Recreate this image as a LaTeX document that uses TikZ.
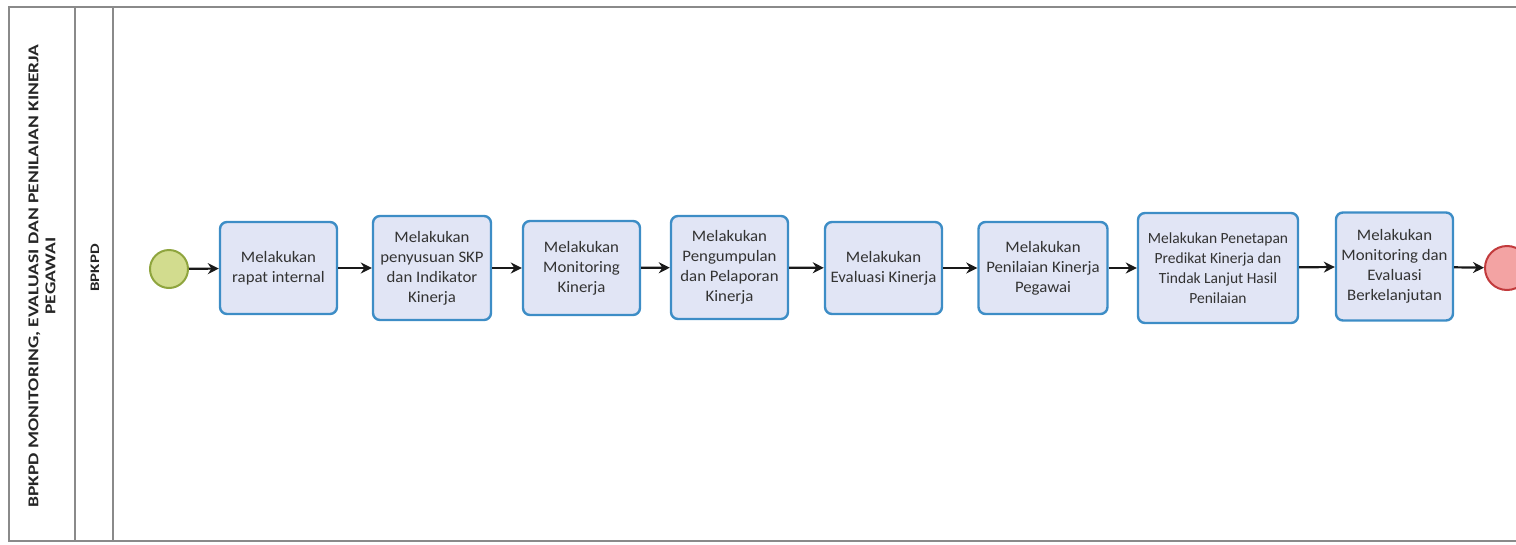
\documentclass[tikz,border=0pt]{standalone}
\usepackage{fontspec}
\setmainfont{Carlito}[FakeStretch=1.05]
\newfontfamily\titlefont{Carlito}[FakeStretch=1.3]
\newfontfamily\plainfont{Carlito}
\usetikzlibrary{arrows.meta}
\definecolor{taskfill}{HTML}{E1E5F5}
\definecolor{taskline}{HTML}{3D8DC6}
\definecolor{startfill}{HTML}{D2DC8E}
\definecolor{startline}{HTML}{8FA53E}
\definecolor{endfill}{HTML}{F3A3A3}
\definecolor{endline}{HTML}{C23A3C}
\definecolor{laneline}{HTML}{8A8A8A}
\definecolor{txt}{HTML}{333333}
\tikzset{
  task/.style={draw=taskline, fill=taskfill, line width=2.4pt, rounded corners=7pt,
    align=center, text=txt, font=\fontsize{16}{20}\selectfont, inner sep=1pt},
  evstart/.style={circle, draw=startline, fill=startfill, line width=2pt, minimum size=38pt, inner sep=0pt},
  evend/.style={circle, draw=endline, fill=endfill, line width=2pt, minimum size=44pt, inner sep=0pt},
  flow/.style={draw=black!90, line width=2.2pt, -{Stealth[length=11pt,width=11pt]}},
  lanetxt/.style={text=black!85, rotate=90, align=center}
}
\begin{document}
\begin{tikzpicture}[x=1pt,y=-1pt]
\useasboundingbox (0,0) rectangle (1516,544);
\begin{scope}
\clip (0,0) rectangle (1516,544);
% pool and lane
\draw[laneline, line width=1.6pt] (1530,7) -- (9,7) -- (9,541) -- (1530,541);
\draw[laneline, line width=1.4pt] (75,7) -- (75,541);
\draw[laneline, line width=1.4pt] (113,7) -- (113,541);
\node[lanetxt, font=\titlefont\bfseries\fontsize{15}{17}\selectfont] (pooltitle) at (42,276) {BPKPD MONITORING, EVALUASI DAN PENILAIAN KINERJA\\PEGAWAI};
\node[lanetxt, font=\titlefont\bfseries\fontsize{13}{15}\selectfont] (lanetitle) at (95,268) {BPKPD};
% events and tasks
\node[evstart] (s) at (169,269) {};
\node[task, minimum width=117pt, minimum height=92pt] (t1) at (278.5,268) {Melakukan\\rapat internal};
\node[task, minimum width=118pt, minimum height=104pt] (t2) at (432,268) {Melakukan\\penyusuan SKP\\dan Indikator\\Kinerja};
\node[task, minimum width=117pt, minimum height=94pt] (t3) at (581.5,268) {Melakukan\\Monitoring\\Kinerja};
\node[task, minimum width=117pt, minimum height=103pt] (t4) at (729.5,267.5) {Melakukan\\Pengumpulan\\dan Pelaporan\\Kinerja};
\node[task, minimum width=117pt, minimum height=92pt] (t5) at (883.5,268) {Melakukan\\Evaluasi Kinerja};
\node[task, minimum width=129pt, minimum height=92pt] (t6) at (1043,268) {Melakukan\\Penilaian Kinerja\\Pegawai};
\node[task, minimum width=160pt, minimum height=110pt, font=\plainfont\fontsize{15.5}{20}\selectfont] (t7) at (1218,268) {Melakukan Penetapan\\Predikat Kinerja dan\\Tindak Lanjut Hasil\\Penilaian};
\node[task, minimum width=117pt, minimum height=108pt] (t8) at (1394.5,266.5) {Melakukan\\Monitoring dan\\Evaluasi\\Berkelanjutan};
\node[evend] (e) at (1507,268) {};
% flows
\draw[flow] (s) -- (t1);
\draw[flow] (t1) -- (t2);
\draw[flow] (t2) -- (t3);
\draw[flow] (t3) -- (t4);
\draw[flow] (t4) -- (t5);
\draw[flow] (t5) -- (t6);
\draw[flow] (t6) -- (t7);
\draw[flow] (t7) -- (t8);
\draw[flow] (t8) -- (e);
\end{scope}
\end{tikzpicture}
\end{document}
